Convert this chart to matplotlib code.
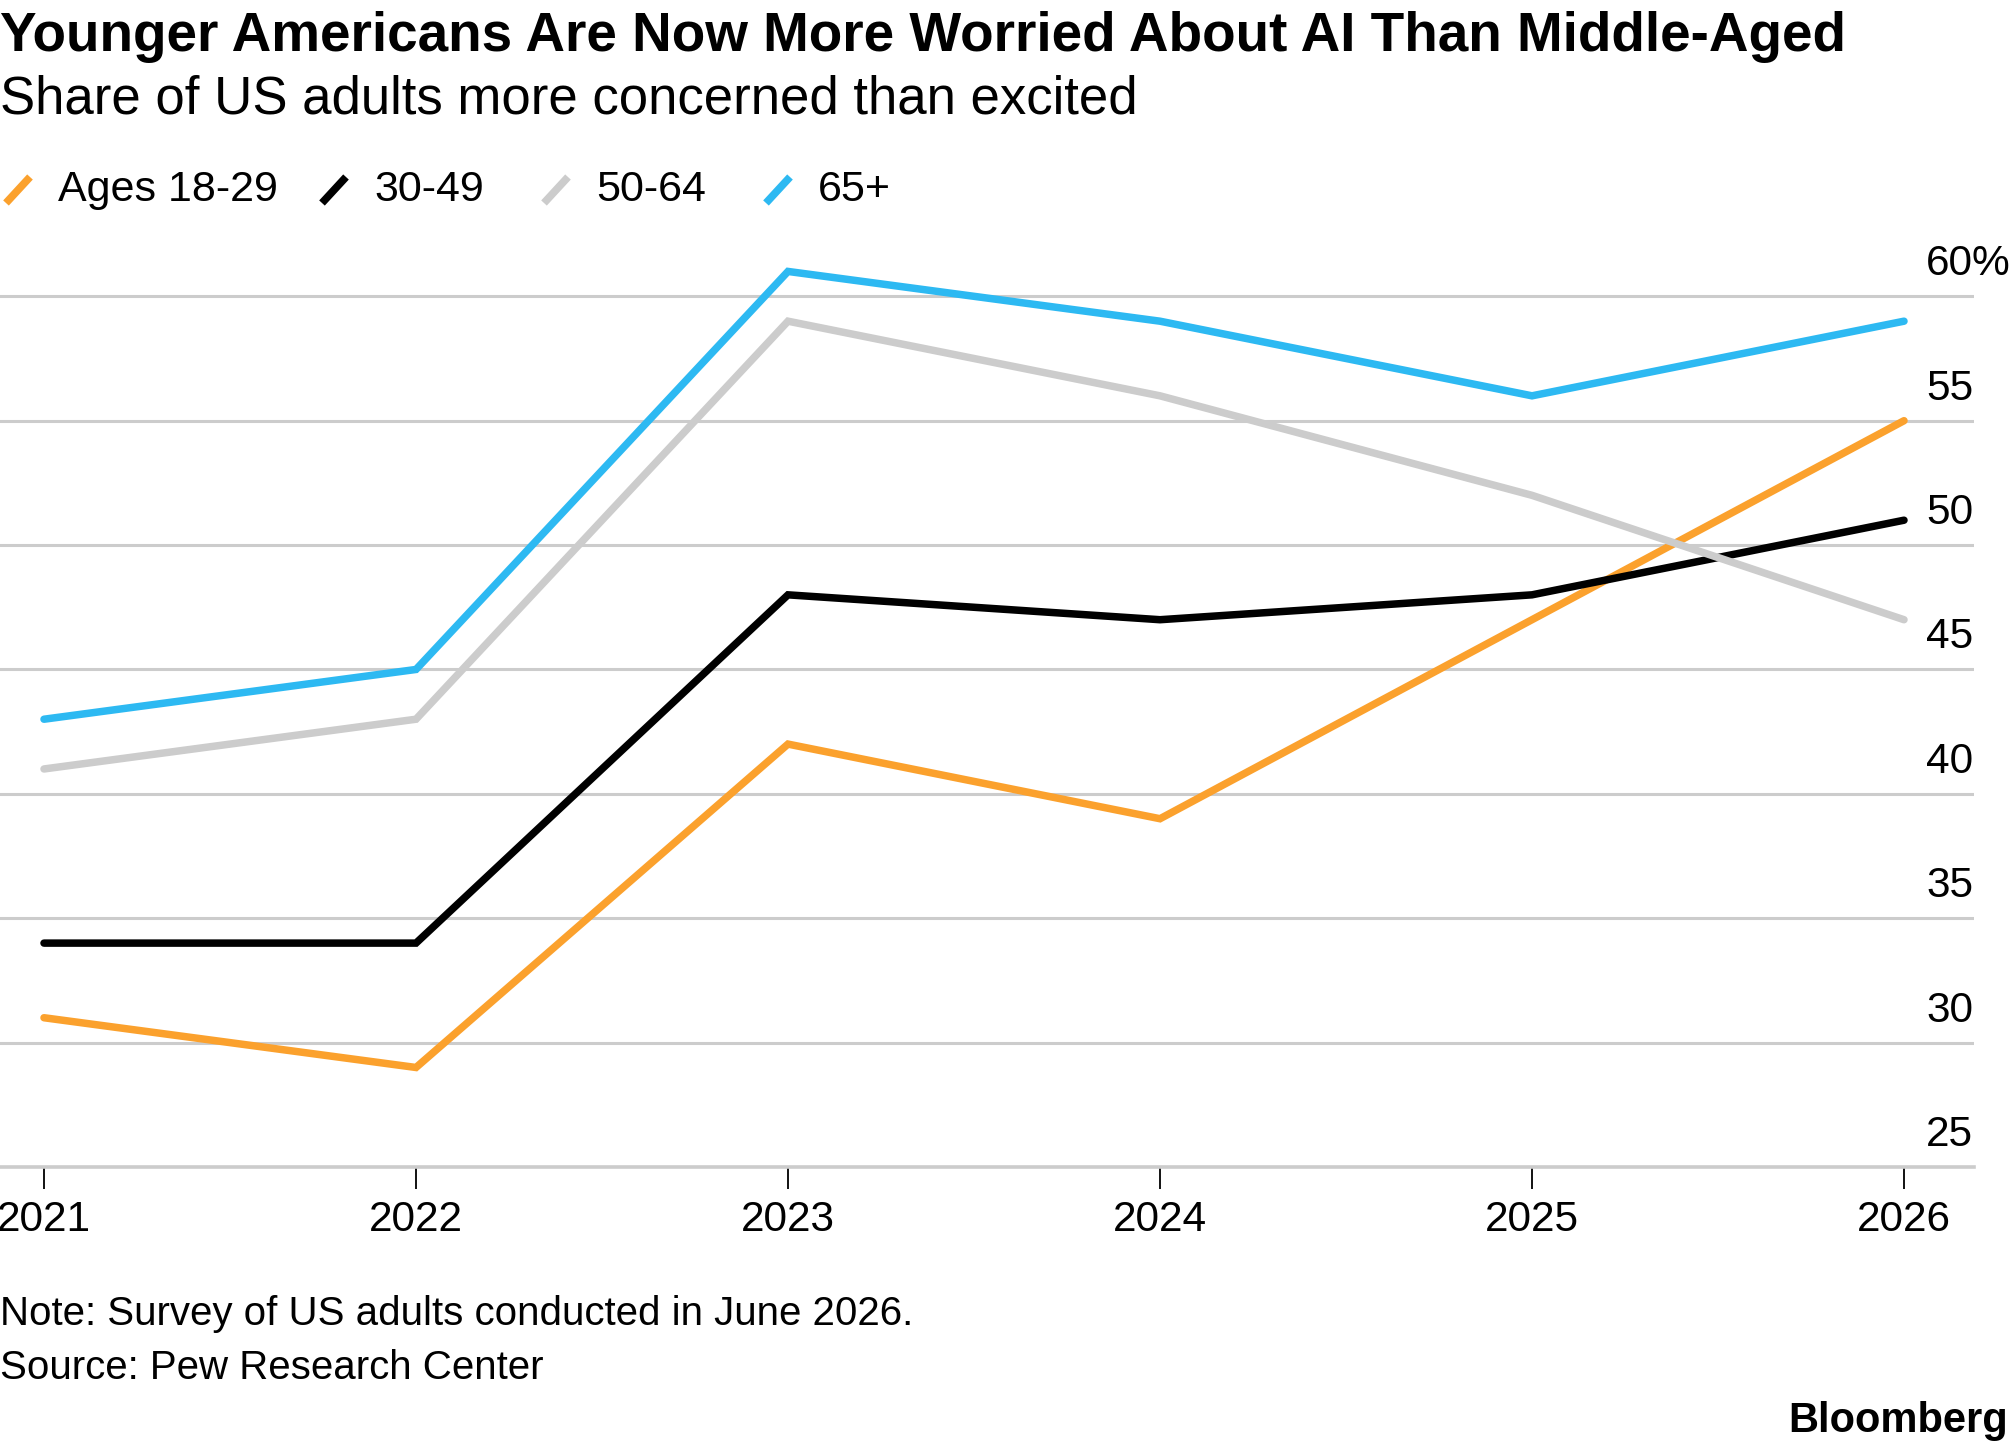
import numpy as np
import matplotlib
matplotlib.use("Agg")
import matplotlib.pyplot as plt
from matplotlib.lines import Line2D
from matplotlib.transforms import blended_transform_factory, offset_copy

plt.rcParams['font.family'] = ['Liberation Sans', 'DejaVu Sans']

# Data (share of US adults more concerned than excited, %)
years = [2021, 2022, 2023, 2024, 2025, 2026]
ages_18_29 = [31, 29, 42, 39, 47, 55]
ages_30_49 = [34, 34, 48, 47, 48, 51]
ages_50_64 = [41, 43, 59, 56, 52, 47]
ages_65_plus = [43, 45, 61, 59, 56, 59]

series_names = ['Ages 18-29', '30-49', '50-64', '65+']
series_values = [ages_18_29, ages_30_49, ages_50_64, ages_65_plus]
series_colors = ['#FBA12D', '#000000', '#CCCCCC', '#2DB9F2']

y_ticks = [25, 30, 35, 40, 45, 50, 55, 60]
y_labels = ['25', '30', '35', '40', '45', '50', '55', '60%']

W, H = 2010, 1449
fig = plt.figure(figsize=(W / 100, H / 100), dpi=100)

# axes: left edge at 0 px, right edge at 1974 px, bottom at 1167 px
ax = fig.add_axes([0, 1 - 1167 / H, 1974 / W, (1167 - 259) / H])

# draw in z-order so later series are on top, like the reference
order = [2, 0, 1, 3]
for i in order:
    ax.plot(years, series_values[i], color=series_colors[i], lw=5.4,
            solid_capstyle='round', solid_joinstyle='miter', zorder=3 + i)

px_per_year = (1904 - 44) / 5
ax.set_xlim(2021 - 44 / px_per_year, 2026 + 70 / px_per_year)
ax.set_ylim(25, 61.5)

ax.set_yticks(y_ticks)
ax.yaxis.grid(True, color='#CCCCCC', lw=2.2)
ax.set_axisbelow(True)
ax.tick_params(axis='y', length=0, labelleft=False, labelright=False)

# y labels sit above each gridline, near the right edge
tr = blended_transform_factory(ax.transAxes, ax.transData)
tr = offset_copy(tr, fig=fig, x=-48 / 100, y=32 / 100, units='inches')
for v, lab in zip(y_ticks, y_labels):
    ax.text(1.0, v, lab, transform=tr, ha='left', va='center',
            fontsize=30.5, color='#000000')

ax.set_xticks(years)
ax.set_xticklabels([str(y) for y in years])
ax.tick_params(axis='x', length=16, width=1.3, color='#000000', pad=8,
               labelsize=30.5, direction='out')

for s in ['top', 'right', 'left']:
    ax.spines[s].set_visible(False)
ax.spines['bottom'].set_color('#CCCCCC')
ax.spines['bottom'].set_linewidth(2.6)

# titles
fig.text(0, 1 - 37 / H, 'Younger Americans Are Now More Worried About AI Than Middle-Aged',
         fontsize=39.5, fontweight='bold', ha='left', va='center')
fig.text(0, 1 - 100 / H, 'Share of US adults more concerned than excited',
         fontsize=38, ha='left', va='center')

# legend with slanted line markers
leg_y = 1 - 190 / H
marker_x = [6, 322, 544, 766]
for name, color, mx in zip(series_names, series_colors, marker_x):
    fig.add_artist(Line2D([mx / W, (mx + 24) / W], [leg_y - 13 / H, leg_y + 13 / H],
                          color=color, lw=5.5, solid_capstyle='butt',
                          transform=fig.transFigure))
    fig.text((mx + 52) / W, leg_y, name, fontsize=31, ha='left', va='center')

# footnotes
fig.text(0, 1 - 1314 / H, 'Note: Survey of US adults conducted in June 2026.',
         fontsize=29, ha='left', va='center')
fig.text(0, 1 - 1368 / H, 'Source: Pew Research Center',
         fontsize=29, ha='left', va='center')
fig.text(2008 / W, 1 - 1421 / H, 'Bloomberg', fontsize=30, fontweight='bold',
         ha='right', va='center')

fig.savefig('out.png', dpi=100)
